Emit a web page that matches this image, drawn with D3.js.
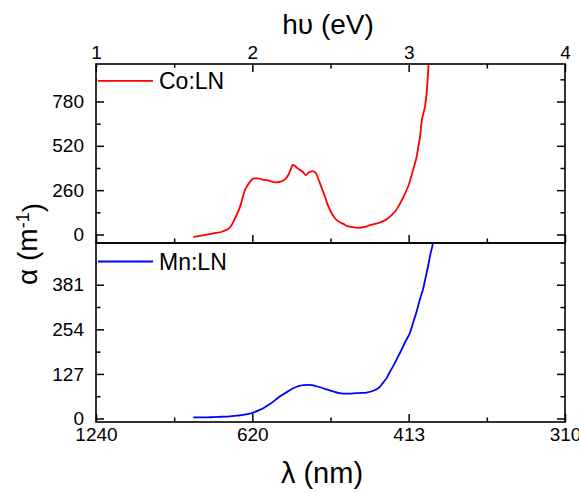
<!DOCTYPE html>
<html>
<head>
<meta charset="utf-8">
<script src="https://cdn.jsdelivr.net/npm/d3@7/dist/d3.min.js"></script>
<style>
  html, body { margin: 0; padding: 0; background: #fff; }
  svg { display: block; }
  text { font-family: "Liberation Sans", Arial, sans-serif; fill: #000; }
</style>
</head>
<body>
<svg id="chart" width="579" height="493"></svg>
<script>
// Photon energy (eV) and absorption coefficient (m^-1) for Co-doped LiNbO3
const coEnergy = [1.622, 1.700, 1.750, 1.814, 1.857, 1.889, 1.921, 1.953, 1.985, 2.011,
  2.038, 2.065, 2.092, 2.120, 2.145, 2.177, 2.209, 2.230, 2.245, 2.258,
  2.273, 2.290, 2.305, 2.325, 2.343, 2.358, 2.386, 2.407, 2.420, 2.433,
  2.450, 2.465, 2.476, 2.497, 2.529, 2.560, 2.582, 2.604, 2.640, 2.678,
  2.720, 2.753, 2.790, 2.827, 2.860, 2.891, 2.920, 2.945, 2.967, 2.987,
  3.004, 3.019, 3.035, 3.051, 3.062, 3.073, 3.083, 3.094, 3.104, 3.115,
  3.121, 3.128];
const coAlpha = [-14, -2, 6, 19, 41, 94, 162, 261, 309, 329,
  329, 322, 319, 312, 306, 309, 323, 349, 380, 408,
  402, 388, 378, 365, 349, 362, 372, 359, 330, 300,
  258, 221, 190, 143, 94, 72, 62, 50, 43, 39,
  44, 55, 63, 74, 90, 113, 143, 182, 220, 261,
  300, 349, 400, 456, 515, 574, 662, 710, 750, 829,
  908, 1006];

// Photon energy (eV) and absorption coefficient (m^-1) for Mn-doped LiNbO3
const mnEnergy = [1.622, 1.700, 1.750, 1.800, 1.857, 1.900, 1.942, 1.975, 2.006, 2.040,
  2.070, 2.100, 2.134, 2.165, 2.198, 2.230, 2.262, 2.295, 2.326, 2.369,
  2.400, 2.433, 2.475, 2.518, 2.550, 2.582, 2.620, 2.660, 2.700, 2.731,
  2.774, 2.800, 2.817, 2.838, 2.859, 2.880, 2.902, 2.925, 2.950, 2.980,
  3.009, 3.030, 3.051, 3.072, 3.094, 3.110, 3.126, 3.140, 3.154, 3.160];
const mnAlpha = [3, 3, 4, 5, 6, 8, 10, 13, 17, 23,
  29, 38, 48, 59, 69, 78, 86, 92, 95, 96,
  93, 89, 83, 77, 73, 71, 71, 72, 73, 74,
  79, 85, 91, 103, 115, 133, 150, 170, 192, 220,
  245, 275, 305, 340, 372, 405, 438, 470, 497, 515];

// Axis ticks and labels
const energyTicks = [1, 2, 3, 4];
const energyMinorTicks = [1.5, 2.5, 3.5];
const energyLabels = ["1", "2", "3", "4"];
const wavelengthLabels = ["1240", "620", "413", "310"];
const coTicks = [0, 260, 520, 780];
const coMinorTicks = [130, 390, 650, 910];
const mnTicks = [0, 127, 254, 381];
const mnMinorTicks = [63.5, 190.5, 317.5, 444.5];

const svg = d3.select("#chart");
const L = 96, R = 565, T = 64, M = 243, B = 422;

const x = d3.scaleLinear().domain([1, 4]).range([L, R]);
const yCo = d3.scaleLinear().domain([-50, 1000]).range([M, T]);
const yMn = d3.scaleLinear().domain([-10, 500]).range([B, M]);

const TICK = 8, MINOR = 4.5;
const fontTick = "19px";

function styleAxis(g) {
  g.select(".domain").remove();
  g.selectAll(".tick line").attr("stroke", "#000").attr("stroke-width", 1.5);
  g.selectAll(".tick text").style("font-size", fontTick).attr("fill", "#000");
}

// clip regions for each panel
const defs = svg.append("defs");
defs.append("clipPath").attr("id", "clipCo")
  .append("rect").attr("x", L).attr("y", T).attr("width", R - L).attr("height", M - T);
defs.append("clipPath").attr("id", "clipMn")
  .append("rect").attr("x", L).attr("y", M).attr("width", R - L).attr("height", B - M);

// data lines
const coData = coEnergy.map((e, i) => [e, coAlpha[i]]);
const mnData = mnEnergy.map((e, i) => [e, mnAlpha[i]]);

svg.append("path")
  .datum(coData)
  .attr("clip-path", "url(#clipCo)")
  .attr("fill", "none").attr("stroke", "#ff0000").attr("stroke-width", 1.8)
  .attr("stroke-linejoin", "round")
  .attr("d", d3.line().curve(d3.curveMonotoneX).x(d => x(d[0])).y(d => yCo(d[1])));

svg.append("path")
  .datum(mnData)
  .attr("clip-path", "url(#clipMn)")
  .attr("fill", "none").attr("stroke", "#0000ff").attr("stroke-width", 1.8)
  .attr("stroke-linejoin", "round")
  .attr("d", d3.line().curve(d3.curveMonotoneX).x(d => x(d[0])).y(d => yMn(d[1])));

// ---- top panel axes ----
// top edge: energy
svg.append("g").attr("transform", `translate(0,${T})`)
  .call(d3.axisTop(x).tickValues(energyTicks).tickSize(-TICK).tickPadding(5)
    .tickFormat((d, i) => energyLabels[i]))
  .call(styleAxis);
svg.append("g").attr("transform", `translate(0,${T})`)
  .call(d3.axisTop(x).tickValues(energyMinorTicks).tickSize(-MINOR).tickFormat(""))
  .call(styleAxis);
// bottom edge of top panel
svg.append("g").attr("transform", `translate(0,${M})`)
  .call(d3.axisBottom(x).tickValues(energyTicks).tickSize(-TICK).tickFormat(""))
  .call(styleAxis);
svg.append("g").attr("transform", `translate(0,${M})`)
  .call(d3.axisBottom(x).tickValues(energyMinorTicks).tickSize(-MINOR).tickFormat(""))
  .call(styleAxis);
// left / right
svg.append("g").attr("transform", `translate(${L},0)`)
  .call(d3.axisLeft(yCo).tickValues(coTicks).tickSize(-TICK).tickPadding(12).tickFormat(d3.format("d")))
  .call(styleAxis);
svg.append("g").attr("transform", `translate(${L},0)`)
  .call(d3.axisLeft(yCo).tickValues(coMinorTicks).tickSize(-MINOR).tickFormat(""))
  .call(styleAxis);
svg.append("g").attr("transform", `translate(${R},0)`)
  .call(d3.axisRight(yCo).tickValues(coTicks).tickSize(-TICK).tickFormat(""))
  .call(styleAxis);
svg.append("g").attr("transform", `translate(${R},0)`)
  .call(d3.axisRight(yCo).tickValues(coMinorTicks).tickSize(-MINOR).tickFormat(""))
  .call(styleAxis);

// ---- bottom panel axes ----
svg.append("g").attr("transform", `translate(0,${B})`)
  .call(d3.axisBottom(x).tickValues(energyTicks).tickSize(-TICK).tickPadding(6)
    .tickFormat((d, i) => wavelengthLabels[i]))
  .call(styleAxis);
svg.append("g").attr("transform", `translate(0,${B})`)
  .call(d3.axisBottom(x).tickValues(energyMinorTicks).tickSize(-MINOR).tickFormat(""))
  .call(styleAxis);
svg.append("g").attr("transform", `translate(${L},0)`)
  .call(d3.axisLeft(yMn).tickValues(mnTicks).tickSize(-TICK).tickPadding(12).tickFormat(d3.format("d")))
  .call(styleAxis);
svg.append("g").attr("transform", `translate(${L},0)`)
  .call(d3.axisLeft(yMn).tickValues(mnMinorTicks).tickSize(-MINOR).tickFormat(""))
  .call(styleAxis);
svg.append("g").attr("transform", `translate(${R},0)`)
  .call(d3.axisRight(yMn).tickValues(mnTicks).tickSize(-TICK).tickFormat(""))
  .call(styleAxis);
svg.append("g").attr("transform", `translate(${R},0)`)
  .call(d3.axisRight(yMn).tickValues(mnMinorTicks).tickSize(-MINOR).tickFormat(""))
  .call(styleAxis);

// ---- legends ----
function legend(y, color, label) {
  svg.append("rect").attr("x", L + 1).attr("y", y - 13).attr("width", 132).attr("height", 26)
    .attr("fill", "#fff");
  svg.append("line").attr("x1", L + 2).attr("x2", L + 57).attr("y1", y).attr("y2", y)
    .attr("stroke", color).attr("stroke-width", 1.8);
  svg.append("text").attr("x", L + 63).attr("y", y + 8.5)
    .style("font-size", "23px").text(label);
}
legend(yCo(910) + 1.5, "#ff0000", "Co:LN");
legend(yMn(444.5) - 1, "#0000ff", "Mn:LN");

// ---- frames ----
svg.append("rect").attr("x", L).attr("y", T).attr("width", R - L).attr("height", M - T)
  .attr("fill", "none").attr("stroke", "#000").attr("stroke-width", 1.6);
svg.append("rect").attr("x", L).attr("y", M).attr("width", R - L).attr("height", B - M)
  .attr("fill", "none").attr("stroke", "#000").attr("stroke-width", 1.6);

// ---- axis titles ----
svg.append("text").attr("x", 328).attr("y", 34).attr("text-anchor", "middle")
  .style("font-size", "28px").text("hυ (eV)");
svg.append("text").attr("x", 322).attr("y", 483).attr("text-anchor", "middle")
  .style("font-size", "29px").text("λ (nm)");

const yTitle = svg.append("text")
  .attr("transform", "translate(37,244) rotate(-90)")
  .attr("text-anchor", "middle")
  .style("font-size", "28px");
yTitle.append("tspan").text("α (m");
yTitle.append("tspan").attr("dy", "-0.45em").style("font-size", "18px").text("-1");
yTitle.append("tspan").attr("dy", "0.45em").text(")");
</script>
</body>
</html>
